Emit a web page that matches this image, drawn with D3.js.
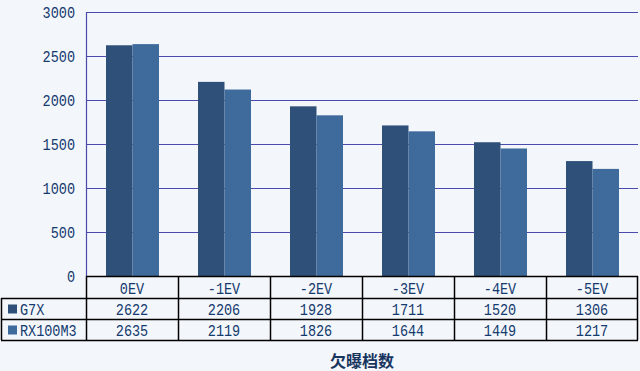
<!DOCTYPE html>
<html>
<head>
<meta charset="utf-8">
<script src="https://cdn.jsdelivr.net/npm/d3@7"></script>
<style>
body { margin: 0; background: #f3f6fb; }
svg { display: block; }
</style>
</head>
<body>
<svg id="chart" width="640" height="371"></svg>
<script>
// exposure steps and the two cameras
var categories = ["0EV", "-1EV", "-2EV", "-3EV", "-4EV", "-5EV"];
var seriesNames = ["G7X", "RX100M3"];
var g7x = [2622, 2206, 1928, 1711, 1520, 1306];
var rx100m3 = [2635, 2119, 1826, 1644, 1449, 1217];
var yTicks = [0, 500, 1000, 1500, 2000, 2500, 3000];
var title = "欠曝档数";

var cfg = {
	left: 86,
	right: 638,
	top: 12,
	bottom: 276,
	rowH: 22,
	colors: ["#2f5078", "#3f6a9c"],
	grid: "#4b4bab",
	text: "#143a6e",
	font: "'Liberation Mono', 'DejaVu Sans Mono', monospace"
};

var series = [g7x, rx100m3];

var svg = d3.select("#chart");
svg.append("rect").attr("width", 640).attr("height", 371).attr("fill", "#f3f6fb");

var x = d3.scaleBand()
	.domain(categories)
	.range([cfg.left, cfg.right]);

var x1 = d3.scaleBand()
	.domain(seriesNames)
	.range([20, 73]);

var y = d3.scaleLinear()
	.domain([0, 3000])
	.range([cfg.bottom, cfg.top]);

// tall narrow text, like the bitmap font of the original
function label(sel, tx, ty, t, anchor) {
	return sel.append("text")
		.attr("transform", "translate(" + tx + "," + ty + ") scale(1,1.25)")
		.attr("dy", "0.35em")
		.attr("text-anchor", anchor || "middle")
		.attr("fill", cfg.text)
		.style("font-family", cfg.font)
		.style("font-size", "13.5px")
		.text(t);
}

// gridlines
svg.append("g")
	.selectAll("line")
	.data(yTicks.slice(1))
	.enter().append("line")
	.attr("x1", cfg.left)
	.attr("x2", cfg.right)
	.attr("y1", function(d) { return Math.round(y(d)) + 0.5; })
	.attr("y2", function(d) { return Math.round(y(d)) + 0.5; })
	.attr("stroke", cfg.grid)
	.attr("stroke-width", 1.2);

// y labels
var yl = svg.append("g");
yTicks.forEach(function(d) { label(yl, 75, y(d), d, "end"); });

// bars
var group = svg.append("g")
	.selectAll("g")
	.data(categories)
	.enter().append("g")
	.attr("transform", function(d) { return "translate(" + x(d) + ",0)"; });

group.selectAll("rect")
	.data(function(d, i) {
		return seriesNames.map(function(s, j) { return { name: s, value: series[j][i], j: j }; });
	})
	.enter().append("rect")
	.attr("x", function(d) { return x1(d.name); })
	.attr("width", x1.bandwidth())
	.attr("y", function(d) { return y(d.value); })
	.attr("height", function(d) { return y(0) - y(d.value); })
	.attr("fill", function(d) { return cfg.colors[d.j]; });

// axis line
svg.append("line")
	.attr("x1", cfg.left + 0.5).attr("x2", cfg.left + 0.5)
	.attr("y1", cfg.top).attr("y2", cfg.bottom)
	.attr("stroke", cfg.grid)
	.attr("stroke-width", 1.2);

// data table
var table = svg.append("g");
var r0 = cfg.bottom;
var r1 = r0 + cfg.rowH;
var r2 = r1 + cfg.rowH - 1;
var r3 = r2 + cfg.rowH - 1;

function hline(x1v, x2v, yv) {
	table.append("line").attr("x1", x1v).attr("x2", x2v)
		.attr("y1", yv + 0.5).attr("y2", yv + 0.5)
		.attr("stroke", "#000").attr("stroke-width", 1.5);
}
function vline(xv, y1v, y2v) {
	table.append("line").attr("x1", xv + 0.5).attr("x2", xv + 0.5)
		.attr("y1", y1v).attr("y2", y2v)
		.attr("stroke", "#000").attr("stroke-width", 1.5);
}

hline(cfg.left, cfg.right, r0);
hline(1, cfg.right, r1);
hline(1, cfg.right, r2);
hline(1, cfg.right, r3);
vline(1, r1, r3);
categories.forEach(function(c) { vline(Math.round(x(c)), r0, r3); });
vline(cfg.right - 1, r0, r3);

categories.forEach(function(c, i) {
	var cx = x(c) + x.bandwidth() / 2;
	label(table, cx, (r0 + r1) / 2 + 1, c);
	label(table, cx, (r1 + r2) / 2 + 1, g7x[i]);
	label(table, cx, (r2 + r3) / 2 + 1, rx100m3[i]);
});

[[r1, r2], [r2, r3]].forEach(function(r, j) {
	var cy = (r[0] + r[1]) / 2;
	table.append("rect")
		.attr("x", 8).attr("y", cy - 4)
		.attr("width", 9).attr("height", 9)
		.attr("fill", cfg.colors[j]);
	label(table, 20, cy + 1, seriesNames[j], "start");
});

// title
svg.append("text")
	.attr("x", (cfg.left + cfg.right) / 2)
	.attr("y", 361)
	.attr("dy", "0.35em")
	.attr("text-anchor", "middle")
	.attr("fill", "#17355f")
	.style("font-family", "'Noto Sans CJK SC', sans-serif")
	.style("font-weight", "bold")
	.style("font-size", "16px")
	.text(title);
</script>
</body>
</html>
